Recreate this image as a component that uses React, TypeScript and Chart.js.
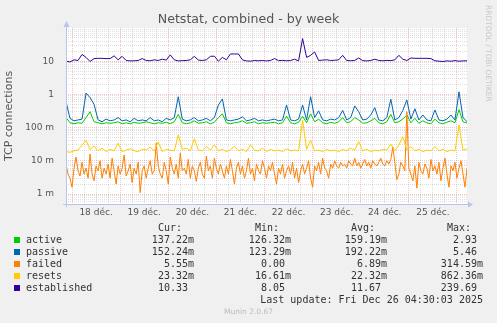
import React, { useEffect, useRef } from 'react';
import { Chart, registerables } from 'chart.js';

Chart.register(...registerables);

// ---- time axis (hours relative to 18 déc. 00:00) ----
const X_MIN = -3;
const X_MAX = 197;
const START_HOUR = -3;
const STEP_HOURS = 2;
const FAILED_STEP_HOURS = 1;
const MILLI = 0.001;

const xTickHours = [0, 6, 12, 18, 24, 30, 36, 42, 48, 54, 60, 66, 72, 78, 84, 90, 96, 102, 108, 114, 120, 126, 132, 138, 144, 150, 156, 162, 168, 174, 180, 186, 192];
const dayLabels = ['18 déc.', '19 déc.', '20 déc.', '21 déc.', '22 déc.', '23 déc.', '24 déc.', '25 déc.'];

const yDecades = [0.001, 0.01, 0.1, 1, 10];
const yTickLabels = ['1 m', '10 m', '100 m', '1', '10'];

// ---- series (values every 2 h; failed every 1 h) ----
const activeM = [
  200, 140, 130, 140, 135, 200, 300, 150, 140, 130,
  140, 135, 140, 150, 130, 140, 130, 145, 135, 140,
  150, 140, 130, 140, 135, 145, 130, 150, 250, 140,
  130, 140, 160, 135, 140, 150, 130, 145, 200, 260,
  140, 130, 140, 145, 160, 135, 140, 150, 130, 140,
  135, 140, 145, 130, 140, 220, 140, 130, 145, 220,
  140, 260, 150, 180, 140, 130, 145, 135, 150, 200,
  140, 150, 200, 170, 135, 140, 160, 190, 140, 130,
  150, 250, 140, 150, 180, 240, 140, 190, 135, 160,
  140, 130, 180, 140, 130, 145, 160, 140, 350, 150,
  137,
];

const passiveM = [
  600, 190, 160, 170, 180, 1100, 800, 500, 170, 150,
  180, 160, 170, 200, 160, 170, 150, 190, 160, 170,
  160, 200, 160, 170, 150, 190, 170, 200, 850, 180,
  160, 170, 200, 160, 170, 190, 160, 200, 480, 730,
  170, 160, 170, 180, 210, 160, 170, 190, 160, 170,
  160, 170, 180, 160, 170, 480, 170, 160, 180, 480,
  170, 850, 200, 320, 170, 160, 180, 170, 200, 330,
  170, 200, 450, 300, 170, 180, 240, 400, 170, 160,
  200, 720, 170, 200, 330, 680, 180, 370, 170, 240,
  170, 160, 340, 170, 160, 180, 240, 170, 1200, 200,
  152,
];

const failedM = [
  8, 4, 3, 1.6, 6, 13, 5, 3.5, 9, 4, 6, 3, 16, 4, 2.5, 7, 5, 10, 3, 6,
  4, 8, 3, 12, 5, 2, 7, 4, 6, 15, 3.5, 5, 8, 2.2, 6, 4, 9, 1.1, 5, 7,
  3, 6, 10, 4, 5, 34, 7, 4, 3, 9, 5, 2, 13, 6, 4, 8, 3, 17, 5, 6,
  4, 11, 3, 7, 5, 2.4, 6, 9, 4, 3, 14, 5, 7, 3, 12, 6, 4, 8, 5, 3,
  7, 4, 11, 5, 2, 6, 9, 4, 7, 3, 5, 12, 4, 6, 2.5, 8, 5, 4, 10, 6,
  3, 7, 5, 9, 4, 2, 6, 4, 8, 3, 5, 7, 4, 9, 3, 6, 2.2, 5, 8, 4,
  6, 10, 3, 1.6, 7, 5, 9, 4, 12, 6, 5, 3, 8, 6, 10, 7, 6, 9, 7, 8,
  6, 10, 8, 7, 12, 7, 9, 6, 8, 11, 7, 9, 6, 10, 8, 7, 9, 12, 8, 7,
  10, 8, 11, 26, 9, 2.7, 4, 9, 7, 5, 300, 6, 4, 2.5, 7, 1.5, 9, 5, 4, 8,
  6, 3, 11, 5, 7, 4, 9, 2.5, 6, 12, 4, 1.6, 7, 5, 9, 3, 6, 10, 4, 1.6, 6,
];

const resetsM = [
  19, 18, 20, 21, 30, 41, 22, 28, 20, 24,
  19, 22, 20, 34, 19, 21, 23, 20, 19, 22,
  21, 26, 20, 37, 19, 22, 21, 20, 60, 22,
  24, 20, 46, 21, 20, 27, 21, 30, 20, 22,
  19, 21, 28, 20, 22, 19, 30, 21, 20, 24,
  19, 22, 20, 21, 19, 23, 20, 21, 20, 170,
  22, 42, 20, 21, 19, 22, 20, 21, 19, 22,
  20, 24, 21, 38, 20, 22, 19, 21, 20, 22,
  21, 32, 20, 30, 53, 21, 27, 20, 22, 19,
  21, 20, 27, 20, 22, 19, 21, 20, 120, 21,
  23,
];

const established = [
  10, 9.5, 11, 10.5, 16, 13, 9.8, 12, 12.2, 12.2,
  12, 12, 14.5, 11, 14, 10.5, 10.2, 10.3, 10.5, 12,
  10.5, 10.3, 11, 10.5, 11.5, 10.8, 15.5, 11, 10.2, 10.4,
  10.5, 11, 14, 10.8, 10.5, 11, 14, 14.2, 10, 13,
  11, 16.5, 16.5, 16.5, 11, 10.2, 10, 10.5, 10.3, 10.5,
  10.2, 10.5, 12, 10.4, 10.6, 10.3, 10.5, 11.5, 10.2, 48,
  13, 15, 19, 10.5, 10.8, 11, 10.5, 10.7, 11, 15,
  10.5, 10.3, 10.6, 12.5, 10.4, 10.2, 10.5, 11.5, 10.5, 10.3,
  10.6, 10.4, 11, 15, 11.5, 10.5, 12.5, 12.2, 12.2, 12.2,
  12.2, 12, 10.3, 10, 9.8, 10.2, 10, 10.4, 10, 10.2,
  10.33,
];

// ---- legend table ----
const seriesNames = ['active', 'passive', 'failed', 'resets', 'established'];
const seriesColors = ['#00cc00', '#0066b3', '#ff8000', '#ffcc00', '#330099'];
const curValues = ['137.22m', '152.24m', '5.55m', '23.32m', '10.33'];
const minValues = ['126.32m', '123.29m', '0.00', '16.61m', '8.05'];
const avgValues = ['159.19m', '192.22m', '6.89m', '22.32m', '11.67'];
const maxValues = ['2.93', '5.46', '314.59m', '862.36m', '239.69'];
const columnHeaders = ['Cur:', 'Min:', 'Avg:', 'Max:'];
const lastUpdate = 'Last update: Fri Dec 26 04:30:03 2025';

const toPoints = (vals: number[], step: number, scale: number) =>
  vals.map((v, i) => ({ x: START_HOUR + i * step, y: v * scale }));

const MAJOR_GRID = 'rgba(225,110,110,0.4)';
const MINOR_GRID = 'rgba(160,160,160,0.35)';
const AXIS_COLOR = '#b9c4ee';

const frame = {
  id: 'muninFrame',
  beforeDraw(chart: any) {
    const { ctx, chartArea: a } = chart;
    ctx.save();
    ctx.fillStyle = '#f0f0f0';
    ctx.fillRect(0, 0, chart.width, chart.height);
    ctx.fillStyle = '#ffffff';
    ctx.fillRect(a.left, a.top, a.right - a.left, a.bottom - a.top);
    ctx.restore();
  },
  afterDraw(chart: any) {
    const { ctx, chartArea: a } = chart;
    ctx.save();
    ctx.strokeStyle = AXIS_COLOR;
    ctx.lineWidth = 1;
    ctx.beginPath();
    ctx.moveTo(a.left + 0.5, a.bottom + 3);
    ctx.lineTo(a.left + 0.5, a.top - 3);
    ctx.moveTo(a.left - 3, a.bottom + 0.5);
    ctx.lineTo(a.right + 2, a.bottom + 0.5);
    ctx.stroke();
    ctx.fillStyle = AXIS_COLOR;
    ctx.beginPath();
    ctx.moveTo(a.left + 0.5, a.top - 7);
    ctx.lineTo(a.left - 2.5, a.top - 1);
    ctx.lineTo(a.left + 3.5, a.top - 1);
    ctx.closePath();
    ctx.fill();
    ctx.beginPath();
    ctx.moveTo(a.right + 6, a.bottom + 0.5);
    ctx.lineTo(a.right + 1, a.bottom - 2.5);
    ctx.lineTo(a.right + 1, a.bottom + 3.5);
    ctx.closePath();
    ctx.fill();
    ctx.restore();
  },
};

function buildYTicks() {
  const ticks: { value: number }[] = [];
  for (let e = -4; e <= 1; e++) {
    for (let m = 1; m <= 9; m++) {
      const v = Number((m * Math.pow(10, e)).toPrecision(3));
      if (v >= 0.0005 && v < 100) ticks.push({ value: v });
    }
  }
  return ticks;
}

function isDecade(v: number) {
  return yDecades.findIndex((d) => Math.abs(d - v) / d < 1e-6);
}

const legendFont = '"DejaVu Sans Mono", monospace';

export default function App() {
  const ref = useRef<HTMLCanvasElement>(null);

  useEffect(() => {
    if (!ref.current) return;
    const mk = (label: string, vals: number[], step: number, scale: number, color: string, order: number) => ({
      label,
      data: toPoints(vals, step, scale),
      borderColor: color,
      backgroundColor: color,
      borderWidth: 1,
      pointRadius: 0,
      tension: 0,
      fill: false,
      order,
    });
    const chart = new Chart(ref.current, {
      type: 'line',
      data: {
        datasets: [
          mk(seriesNames[0], activeM, STEP_HOURS, MILLI, seriesColors[0], 5),
          mk(seriesNames[1], passiveM, STEP_HOURS, MILLI, seriesColors[1], 4),
          mk(seriesNames[2], failedM, FAILED_STEP_HOURS, MILLI, seriesColors[2], 3),
          mk(seriesNames[3], resetsM, STEP_HOURS, MILLI, seriesColors[3], 2),
          mk(seriesNames[4], established, STEP_HOURS, 1, seriesColors[4], 1),
        ] as any,
      },
      options: {
        animation: false,
        responsive: false,
        devicePixelRatio: 1,
        layout: { padding: { top: 28, right: 30, left: 0, bottom: 0 } },
        plugins: { legend: { display: false }, tooltip: { enabled: false }, title: { display: false } },
        scales: {
          x: {
            type: 'linear',
            min: X_MIN,
            max: X_MAX,
            afterFit: (s: any) => { s.height = 119; },
            afterBuildTicks: (s: any) => { s.ticks = xTickHours.map((v) => ({ value: v })); },
            grid: {
              drawTicks: false,
              color: (c: any) => (c.tick && c.tick.value % 24 === 0 ? MAJOR_GRID : MINOR_GRID),
              lineWidth: 1,
            },
            border: { display: false, dash: [1, 1] },
            ticks: {
              autoSkip: false,
              maxRotation: 0,
              padding: 3,
              color: '#555',
              font: { family: '"DejaVu Sans", sans-serif', size: 9 },
              callback: (v: any) => {
                const n = Number(v);
                return n % 24 === 12 ? dayLabels[(n - 12) / 24] : '';
              },
            },
          },
          y: {
            type: 'logarithmic',
            min: 0.0005,
            max: 100,
            afterFit: (s: any) => { s.width = 66; },
            afterBuildTicks: (s: any) => { s.ticks = buildYTicks(); },
            grid: {
              drawTicks: false,
              color: (c: any) => (c.tick && isDecade(c.tick.value) >= 0 ? MAJOR_GRID : MINOR_GRID),
              lineWidth: 1,
            },
            border: { display: false, dash: [1, 1] },
            title: {
              display: true,
              text: 'TCP connections',
              color: '#555',
              font: { family: '"DejaVu Sans", sans-serif', size: 11 },
              padding: { top: 3, bottom: 0 },
            },
            ticks: {
              autoSkip: false,
              padding: 12,
              color: '#555',
              font: { family: '"DejaVu Sans", sans-serif', size: 9 },
              callback: (v: any) => {
                const k = isDecade(Number(v));
                return k >= 0 ? yTickLabels[k] : '';
              },
            },
          },
        },
      } as any,
      plugins: [frame],
    });
    return () => chart.destroy();
  }, []);

  const cols = [curValues, minValues, avgValues, maxValues];
  const colRight = [194, 291, 387, 483];
  const rowCenter = (i: number) => 240 + 12 * i;
  const fmt = (s: string) => (/[0-9]$/.test(s) ? s + ' ' : s);

  const textBox = (key: string, text: string, right: number, center: number) => (
    <div
      key={key}
      style={{
        position: 'absolute',
        left: right - 260,
        width: 260,
        top: center - 6,
        height: 12,
        lineHeight: '12px',
        textAlign: 'right',
        whiteSpace: 'pre',
        fontFamily: legendFont,
        fontSize: 10,
        color: '#333',
      }}
    >
      {text}
    </div>
  );

  return (
    <div
      style={{
        position: 'fixed',
        left: 0,
        top: 0,
        width: 497,
        height: 323,
        background: '#f0f0f0',
        overflow: 'hidden',
        fontFamily: '"DejaVu Sans", sans-serif',
      }}
    >
      <canvas ref={ref} width={497} height={323} style={{ position: 'absolute', left: 0, top: 0, width: 497, height: 323 }} />
      <div
        style={{
          position: 'absolute',
          left: 0,
          width: 497,
          top: 11,
          lineHeight: '16px',
          textAlign: 'center',
          fontSize: 12.6,
          color: '#555',
          whiteSpace: 'pre',
        }}
      >
        Netstat, combined - by week
      </div>
      <div
        style={{
          position: 'absolute',
          left: 484,
          top: 5,
          writingMode: 'vertical-rl',
          fontSize: 7.5,
          lineHeight: '9px',
          color: '#c8c8c8',
          whiteSpace: 'pre',
        }}
      >
        RRDTOOL / TOBI OETIKER
      </div>
      {columnHeaders.map((h, c) => textBox('h' + c, h + '  ', colRight[c], 228))}
      {seriesNames.map((name, i) => (
        <React.Fragment key={name}>
          <div
            style={{
              position: 'absolute',
              left: 14,
              top: rowCenter(i) - 3,
              width: 6,
              height: 6,
              background: seriesColors[i],
            }}
          />
          <div
            style={{
              position: 'absolute',
              left: 26,
              top: rowCenter(i) - 6,
              lineHeight: '12px',
              whiteSpace: 'pre',
              fontFamily: legendFont,
              fontSize: 10,
              color: '#333',
            }}
          >
            {name}
          </div>
          {cols.map((col, c) => textBox(name + c, fmt(col[i]), colRight[c], rowCenter(i)))}
        </React.Fragment>
      ))}
      {textBox('lu', lastUpdate, 483, 300)}
      <div
        style={{
          position: 'absolute',
          left: 0,
          width: 497,
          top: 307,
          lineHeight: '10px',
          textAlign: 'center',
          fontSize: 7.5,
          color: '#bbbbbb',
        }}
      >
        Munin 2.0.67
      </div>
    </div>
  );
}
